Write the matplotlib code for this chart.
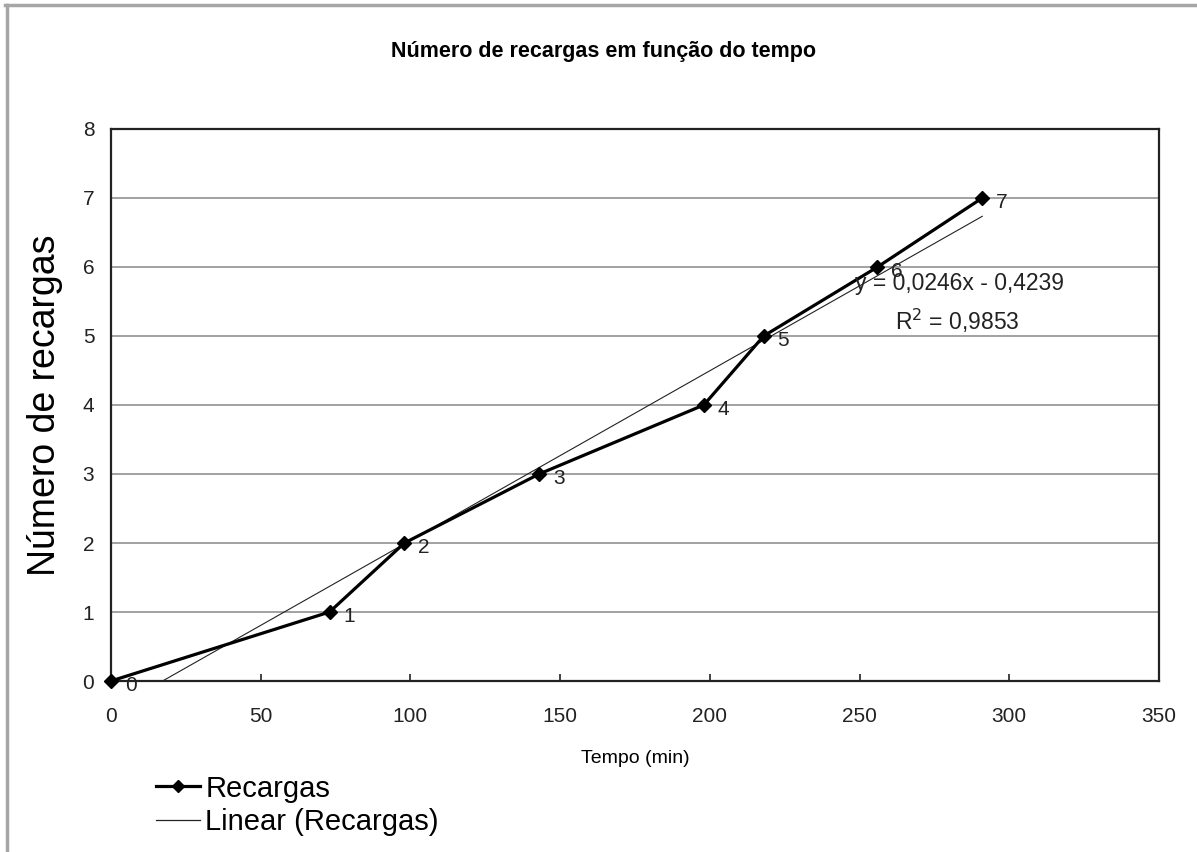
import matplotlib.pyplot as plt
from matplotlib.lines import Line2D

plt.rcParams['font.family'] = ['Liberation Sans', 'DejaVu Sans']

tempo = [0, 73, 98, 143, 198, 218, 256, 291]
recargas = [0, 1, 2, 3, 4, 5, 6, 7]
rotulos = ['0', '1', '2', '3', '4', '5', '6', '7']

# coeficientes da linha de tendência (regressão linear)
a_coef = 0.0246
b_coef = -0.4239
r2 = 0.9853

fig = plt.figure(figsize=(11.97, 8.52), dpi=100)
ax = fig.add_axes([0.0927, 0.2007, 0.8755, 0.6479])

for y in range(1, 8):
    ax.axhline(y, color='#9a9a9a', linewidth=1.3, zorder=0)

# tendência: do ponto onde cruza y=0 até o último tempo
x0 = -b_coef / a_coef
xt = [x0, tempo[-1]]
yt = [a_coef * v + b_coef for v in xt]
ax.plot(xt, yt, color='#222222', linewidth=0.8, zorder=2)

ax.plot(tempo, recargas, color='black', linewidth=2.3, marker='D',
        markersize=7, zorder=3, clip_on=False)

for x, y, r in zip(tempo, recargas, rotulos):
    ax.annotate(r, (x, y), xytext=(10, -3), textcoords='offset points',
                ha='left', va='center', fontsize=15, color='#222222')

eq = 'y = 0,0246x - 0,4239'
ax.text(0.802, 1 - 284 / 852, eq, transform=fig.transFigure, fontsize=16.5,
        ha='center', va='center', color='#222222')
ax.text(0.800, 1 - 321 / 852, 'R$^2$ = 0,9853', transform=fig.transFigure,
        fontsize=16.5, ha='center', va='center', color='#222222')

ax.set_xlim(0, 350)
ax.set_ylim(0, 8)
ax.set_xticks(range(0, 351, 50))
ax.set_yticks(range(0, 9))
ax.tick_params(axis='x', direction='in', length=5, width=1.2, pad=19,
               labelsize=15, colors='#222222')
ax.tick_params(axis='y', length=0, pad=12, labelsize=15, colors='#222222')
for s in ax.spines.values():
    s.set_linewidth(1.6)
    s.set_color('#222222')

ax.set_xlabel('Tempo (min)', fontsize=14, labelpad=17)
ax.set_ylabel('Número de recargas', fontsize=27, labelpad=14)

fig.text(0.504, 0.940, 'Número de recargas em função do tempo', ha='center',
         va='center', fontsize=15.5, fontweight='bold')

# legenda
leg_handles = [
    Line2D([], [], color='black', linewidth=2.3, marker='D', markersize=6),
    Line2D([], [], color='#222222', linewidth=0.9),
]
fig.legend(leg_handles, ['Recargas', 'Linear (Recargas)'],
           loc='upper left', bbox_to_anchor=(0.118, 0.108),
           frameon=False, fontsize=21, handlelength=1.5, handletextpad=0.2,
           labelspacing=0.2, borderpad=0)

# moldura cinza da área do gráfico
fig.add_artist(Line2D([0.004, 1.0], [0.994, 0.994], color='#a6a6a6',
                      linewidth=2.5, transform=fig.transFigure))
fig.add_artist(Line2D([0.0055, 0.0055], [0.0, 0.994], color='#a6a6a6',
                      linewidth=2.5, transform=fig.transFigure))

plt.savefig('out.png', dpi=100)
